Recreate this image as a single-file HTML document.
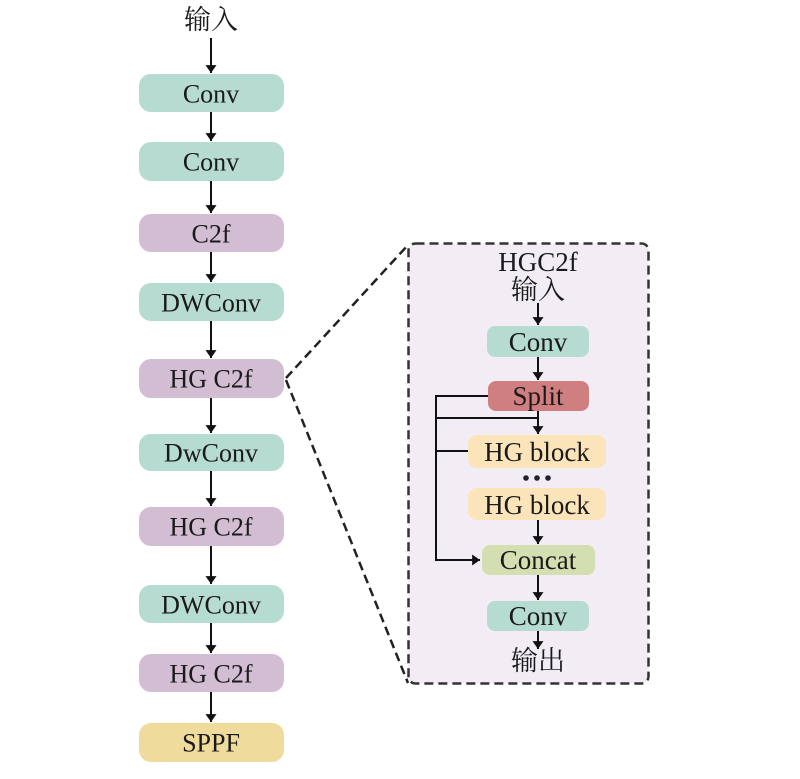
<!DOCTYPE html>
<html><head><meta charset="utf-8"><style>
html,body{margin:0;padding:0;background:#fff;}
svg{display:block;}
text{font-family:"Liberation Serif","Noto Serif CJK SC",serif;fill:#1a1a1a;text-anchor:middle;dominant-baseline:central;}
</style></head><body>
<svg width="800" height="779" viewBox="0 0 800 779" xmlns="http://www.w3.org/2000/svg">
<defs>
<marker id="a" viewBox="0 0 10 14" refX="10" refY="7" markerWidth="14" markerHeight="11" markerUnits="userSpaceOnUse" orient="auto"><path d="M0,0 L10,7 L0,14 z" fill="#111"/></marker>
</defs>
<rect x="408.5" y="243.5" width="240" height="440" rx="7" fill="#f2edf4" stroke="#333" stroke-width="2.5" stroke-dasharray="9,5"/>
<path d="M286,378 L408,245 M286,380 L408,683" stroke="#222" stroke-width="2.5" stroke-dasharray="9,5" fill="none"/>

<g stroke="#111" stroke-width="2" fill="none">
<line x1="211" y1="38" x2="211" y2="73" marker-end="url(#a)"/>
<line x1="211" y1="112" x2="211" y2="141" marker-end="url(#a)"/>
<line x1="211" y1="181" x2="211" y2="213" marker-end="url(#a)"/>
<line x1="211" y1="252" x2="211" y2="282" marker-end="url(#a)"/>
<line x1="211" y1="321" x2="211" y2="358" marker-end="url(#a)"/>
<line x1="211" y1="398" x2="211" y2="433" marker-end="url(#a)"/>
<line x1="211" y1="471" x2="211" y2="506" marker-end="url(#a)"/>
<line x1="211" y1="546" x2="211" y2="584" marker-end="url(#a)"/>
<line x1="211" y1="623" x2="211" y2="653" marker-end="url(#a)"/>
<line x1="211" y1="692" x2="211" y2="722" marker-end="url(#a)"/>
<line x1="538" y1="303" x2="538" y2="325" marker-end="url(#a)"/>
<line x1="538" y1="357" x2="538" y2="380" marker-end="url(#a)"/>
<line x1="538" y1="411" x2="538" y2="434" marker-end="url(#a)"/>
<line x1="538" y1="520" x2="538" y2="544" marker-end="url(#a)"/>
<line x1="538" y1="575" x2="538" y2="600" marker-end="url(#a)"/>
<line x1="538" y1="631" x2="538" y2="649" marker-end="url(#a)"/>
<polyline points="488,396 436,396 436,560 480,560" marker-end="url(#a)"/>
<line x1="436" y1="418" x2="538" y2="418"/>
<line x1="436" y1="451" x2="468" y2="451"/>
</g>

<g>
<rect x="139" y="74" width="145" height="38" rx="12" fill="#b6dbd0"/>
<rect x="139" y="142" width="145" height="39" rx="12" fill="#b6dbd0"/>
<rect x="139" y="214" width="145" height="38" rx="12" fill="#d3bdd3"/>
<rect x="139" y="283" width="145" height="38" rx="12" fill="#b6dbd0"/>
<rect x="139" y="359" width="145" height="39" rx="12" fill="#d3bdd3"/>
<rect x="139" y="434" width="145" height="37" rx="12" fill="#b6dbd0"/>
<rect x="139" y="507" width="145" height="39" rx="12" fill="#d3bdd3"/>
<rect x="139" y="585" width="145" height="38" rx="12" fill="#b6dbd0"/>
<rect x="139" y="654" width="145" height="38" rx="12" fill="#d3bdd3"/>
<rect x="139" y="723" width="145" height="39" rx="12" fill="#efdb9b"/>

<rect x="487" y="326" width="102" height="31" rx="8" fill="#b6dbd0"/>
<rect x="488" y="381" width="101" height="30" rx="8" fill="#d07f81"/>
<rect x="468" y="435" width="138" height="33" rx="9" fill="#fbe4b9"/>
<rect x="468" y="488" width="138" height="32" rx="9" fill="#fbe4b9"/>
<rect x="482" y="545" width="113" height="30" rx="8" fill="#d4dfb1"/>
<rect x="487" y="601" width="102" height="30" rx="8" fill="#b6dbd0"/>
</g>
<circle cx="526" cy="478" r="2.8" fill="#223"/><circle cx="537" cy="478" r="2.8" fill="#223"/><circle cx="548" cy="478" r="2.8" fill="#223"/>

<g font-size="26">
<text x="211" y="20" font-size="27">输入</text>
<text x="211" y="94">Conv</text>
<text x="211" y="162">Conv</text>
<text x="211" y="234">C2f</text>
<text x="211" y="303">DWConv</text>
<text x="211" y="379">HG C2f</text>
<text x="211" y="453">DwConv</text>
<text x="211" y="527">HG C2f</text>
<text x="211" y="605">DWConv</text>
<text x="211" y="674">HG C2f</text>
<text x="211" y="743">SPPF</text>
</g>
<g font-size="27">
<text x="538" y="262">HGC2f</text>
<text x="538" y="290">输入</text>
<text x="538" y="342">Conv</text>
<text x="538" y="396">Split</text>
<text x="537" y="452">HG block</text>
<text x="537" y="505">HG block</text>
<text x="538" y="560">Concat</text>
<text x="538" y="616">Conv</text>
<text x="538" y="661">输出</text>
</g>
</svg>
</body></html>
